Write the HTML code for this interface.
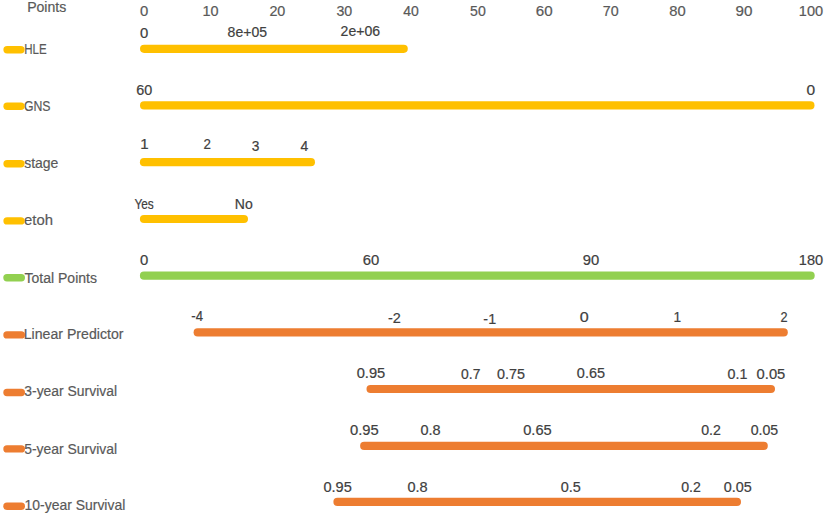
<!DOCTYPE html><html><head><meta charset="utf-8"><style>html,body{margin:0;padding:0;background:#fff;}svg{display:block;}text{font-family:"Liberation Sans",sans-serif;stroke-width:0.2px;}</style></head><body>
<svg width="825" height="516" viewBox="0 0 825 516">
<rect width="825" height="516" fill="#fff"/>
<line x1="144.10" y1="48.80" x2="403.70" y2="48.80" stroke="#FFC000" stroke-width="8.2" stroke-linecap="round"/>
<line x1="144.10" y1="105.40" x2="810.40" y2="105.40" stroke="#FFC000" stroke-width="8.2" stroke-linecap="round"/>
<line x1="144.00" y1="162.20" x2="310.90" y2="162.20" stroke="#FFC000" stroke-width="8.2" stroke-linecap="round"/>
<line x1="144.00" y1="219.00" x2="243.90" y2="219.00" stroke="#FFC000" stroke-width="8.2" stroke-linecap="round"/>
<line x1="144.00" y1="275.70" x2="810.60" y2="275.70" stroke="#92D050" stroke-width="8.2" stroke-linecap="round"/>
<line x1="197.70" y1="332.40" x2="783.70" y2="332.40" stroke="#ED7D31" stroke-width="8.2" stroke-linecap="round"/>
<line x1="370.60" y1="389.00" x2="770.90" y2="389.00" stroke="#ED7D31" stroke-width="8.2" stroke-linecap="round"/>
<line x1="364.20" y1="445.90" x2="763.70" y2="445.90" stroke="#ED7D31" stroke-width="8.2" stroke-linecap="round"/>
<line x1="337.50" y1="501.90" x2="736.90" y2="501.90" stroke="#ED7D31" stroke-width="8.2" stroke-linecap="round"/>
<text transform="translate(140.12,16.30) scale(1.0763,1)" font-size="13.8" fill="#595959" stroke="#595959">0</text>
<text transform="translate(202.60,16.30) scale(1.0466,1)" font-size="13.8" fill="#595959" stroke="#595959">10</text>
<text transform="translate(269.38,16.30) scale(1.0413,1)" font-size="13.8" fill="#595959" stroke="#595959">20</text>
<text transform="translate(336.46,16.30) scale(1.0292,1)" font-size="13.8" fill="#595959" stroke="#595959">30</text>
<text transform="translate(403.18,16.30) scale(1.0145,1)" font-size="13.8" fill="#595959" stroke="#595959">40</text>
<text transform="translate(470.03,16.30) scale(1.0242,1)" font-size="13.8" fill="#595959" stroke="#595959">50</text>
<text transform="translate(535.83,16.30) scale(1.0990,1)" font-size="13.8" fill="#595959" stroke="#595959">60</text>
<text transform="translate(602.77,16.30) scale(1.0352,1)" font-size="13.8" fill="#595959" stroke="#595959">70</text>
<text transform="translate(669.27,16.30) scale(1.0694,1)" font-size="13.8" fill="#595959" stroke="#595959">80</text>
<text transform="translate(735.59,16.30) scale(1.1018,1)" font-size="13.8" fill="#595959" stroke="#595959">90</text>
<text transform="translate(798.79,16.30) scale(1.0545,1)" font-size="13.8" fill="#595959" stroke="#595959">100</text>
<text transform="translate(140.12,38.10) scale(1.0763,1)" font-size="13.8" fill="#404040" stroke="#404040">0</text>
<text transform="translate(227.60,37.20) scale(1.0166,1)" font-size="13.8" fill="#404040" stroke="#404040">8e+05</text>
<text transform="translate(340.60,36.00) scale(1.0199,1)" font-size="13.8" fill="#404040" stroke="#404040">2e+06</text>
<text transform="translate(136.37,95.00) scale(1.0423,1)" font-size="13.8" fill="#404040" stroke="#404040">60</text>
<text transform="translate(806.60,94.90) scale(1.1218,1)" font-size="13.8" fill="#404040" stroke="#404040">0</text>
<text transform="translate(140.15,148.90) scale(1.0928,1)" font-size="13.8" fill="#404040" stroke="#404040">1</text>
<text transform="translate(203.43,148.77) scale(0.9694,1)" font-size="13.8" fill="#404040" stroke="#404040">2</text>
<text transform="translate(251.78,150.85) scale(0.9937,1)" font-size="13.8" fill="#404040" stroke="#404040">3</text>
<text transform="translate(300.48,150.50) scale(1.0064,1)" font-size="13.8" fill="#404040" stroke="#404040">4</text>
<text transform="translate(134.44,208.68) scale(0.8615,1)" font-size="13.8" fill="#404040" stroke="#404040">Yes</text>
<text transform="translate(234.85,208.68) scale(1.0173,1)" font-size="13.8" fill="#404040" stroke="#404040">No</text>
<text transform="translate(140.12,264.90) scale(1.0763,1)" font-size="13.8" fill="#404040" stroke="#404040">0</text>
<text transform="translate(362.64,264.90) scale(1.0777,1)" font-size="13.8" fill="#404040" stroke="#404040">60</text>
<text transform="translate(582.70,264.90) scale(1.0735,1)" font-size="13.8" fill="#404040" stroke="#404040">90</text>
<text transform="translate(798.79,264.90) scale(1.0545,1)" font-size="13.8" fill="#404040" stroke="#404040">180</text>
<text transform="translate(191.32,321.40) scale(0.9502,1)" font-size="13.8" fill="#404040" stroke="#404040">-4</text>
<text transform="translate(387.96,323.27) scale(1.0482,1)" font-size="13.8" fill="#404040" stroke="#404040">-2</text>
<text transform="translate(483.37,323.65) scale(1.0378,1)" font-size="13.8" fill="#404040" stroke="#404040">-1</text>
<text transform="translate(579.77,322.05) scale(1.1673,1)" font-size="13.8" fill="#404040" stroke="#404040">0</text>
<text transform="translate(673.56,322.05) scale(0.9920,1)" font-size="13.8" fill="#404040" stroke="#404040">1</text>
<text transform="translate(780.56,321.82) scale(0.9217,1)" font-size="13.8" fill="#404040" stroke="#404040">2</text>
<text transform="translate(356.63,378.30) scale(1.0646,1)" font-size="13.8" fill="#404040" stroke="#404040">0.95</text>
<text transform="translate(461.06,378.70) scale(1.0081,1)" font-size="13.8" fill="#404040" stroke="#404040">0.7</text>
<text transform="translate(496.94,378.70) scale(1.0413,1)" font-size="13.8" fill="#404040" stroke="#404040">0.75</text>
<text transform="translate(576.84,378.35) scale(1.0491,1)" font-size="13.8" fill="#404040" stroke="#404040">0.65</text>
<text transform="translate(727.54,378.50) scale(1.0352,1)" font-size="13.8" fill="#404040" stroke="#404040">0.1</text>
<text transform="translate(756.62,378.50) scale(1.0685,1)" font-size="13.8" fill="#404040" stroke="#404040">0.05</text>
<text transform="translate(350.02,435.40) scale(1.0685,1)" font-size="13.8" fill="#404040" stroke="#404040">0.95</text>
<text transform="translate(420.54,435.40) scale(1.0471,1)" font-size="13.8" fill="#404040" stroke="#404040">0.8</text>
<text transform="translate(523.23,435.40) scale(1.0607,1)" font-size="13.8" fill="#404040" stroke="#404040">0.65</text>
<text transform="translate(701.15,435.40) scale(1.0249,1)" font-size="13.8" fill="#404040" stroke="#404040">0.2</text>
<text transform="translate(750.65,435.40) scale(1.0258,1)" font-size="13.8" fill="#404040" stroke="#404040">0.05</text>
<text transform="translate(323.43,491.85) scale(1.0568,1)" font-size="13.8" fill="#404040" stroke="#404040">0.95</text>
<text transform="translate(407.43,491.85) scale(1.0526,1)" font-size="13.8" fill="#404040" stroke="#404040">0.8</text>
<text transform="translate(560.74,491.85) scale(1.0463,1)" font-size="13.8" fill="#404040" stroke="#404040">0.5</text>
<text transform="translate(681.15,491.85) scale(1.0249,1)" font-size="13.8" fill="#404040" stroke="#404040">0.2</text>
<text transform="translate(723.64,491.85) scale(1.0452,1)" font-size="13.8" fill="#404040" stroke="#404040">0.05</text>
<text transform="translate(27.14,12.00) scale(0.9522,1)" font-size="14.8" fill="#595959" stroke="#595959">Points</text>
<text transform="translate(24.15,53.60) scale(0.7796,1)" font-size="14.8" fill="#595959" stroke="#595959">HLE</text>
<text transform="translate(23.99,110.60) scale(0.8287,1)" font-size="14.8" fill="#595959" stroke="#595959">GNS</text>
<text transform="translate(24.21,167.60) scale(0.9449,1)" font-size="14.8" fill="#595959" stroke="#595959">stage</text>
<text transform="translate(23.97,224.70) scale(1.0067,1)" font-size="14.8" fill="#595959" stroke="#595959">etoh</text>
<text transform="translate(24.49,282.60) scale(0.9479,1)" font-size="14.8" fill="#595959" stroke="#595959">Total Points</text>
<text transform="translate(23.64,339.40) scale(0.9562,1)" font-size="14.8" fill="#595959" stroke="#595959">Linear Predictor</text>
<text transform="translate(24.27,396.40) scale(0.9408,1)" font-size="14.8" fill="#595959" stroke="#595959">3-year Survival</text>
<text transform="translate(24.24,454.00) scale(0.9411,1)" font-size="14.8" fill="#595959" stroke="#595959">5-year Survival</text>
<text transform="translate(24.54,510.40) scale(0.9426,1)" font-size="14.8" fill="#595959" stroke="#595959">10-year Survival</text>
<line x1="7.10" y1="49.70" x2="20.90" y2="49.70" stroke="#FFC000" stroke-width="7.4" stroke-linecap="round"/>
<line x1="7.10" y1="106.30" x2="20.90" y2="106.30" stroke="#FFC000" stroke-width="7.4" stroke-linecap="round"/>
<line x1="7.10" y1="163.70" x2="20.90" y2="163.70" stroke="#FFC000" stroke-width="7.4" stroke-linecap="round"/>
<line x1="7.10" y1="220.90" x2="20.90" y2="220.90" stroke="#FFC000" stroke-width="7.4" stroke-linecap="round"/>
<line x1="7.00" y1="277.70" x2="21.30" y2="277.70" stroke="#92D050" stroke-width="7.4" stroke-linecap="round"/>
<line x1="7.00" y1="334.90" x2="21.30" y2="334.90" stroke="#ED7D31" stroke-width="7.4" stroke-linecap="round"/>
<line x1="7.00" y1="392.50" x2="21.30" y2="392.50" stroke="#ED7D31" stroke-width="7.4" stroke-linecap="round"/>
<line x1="7.00" y1="448.90" x2="21.30" y2="448.90" stroke="#ED7D31" stroke-width="7.4" stroke-linecap="round"/>
<line x1="7.00" y1="506.30" x2="21.30" y2="506.30" stroke="#ED7D31" stroke-width="7.4" stroke-linecap="round"/>
</svg></body></html>
